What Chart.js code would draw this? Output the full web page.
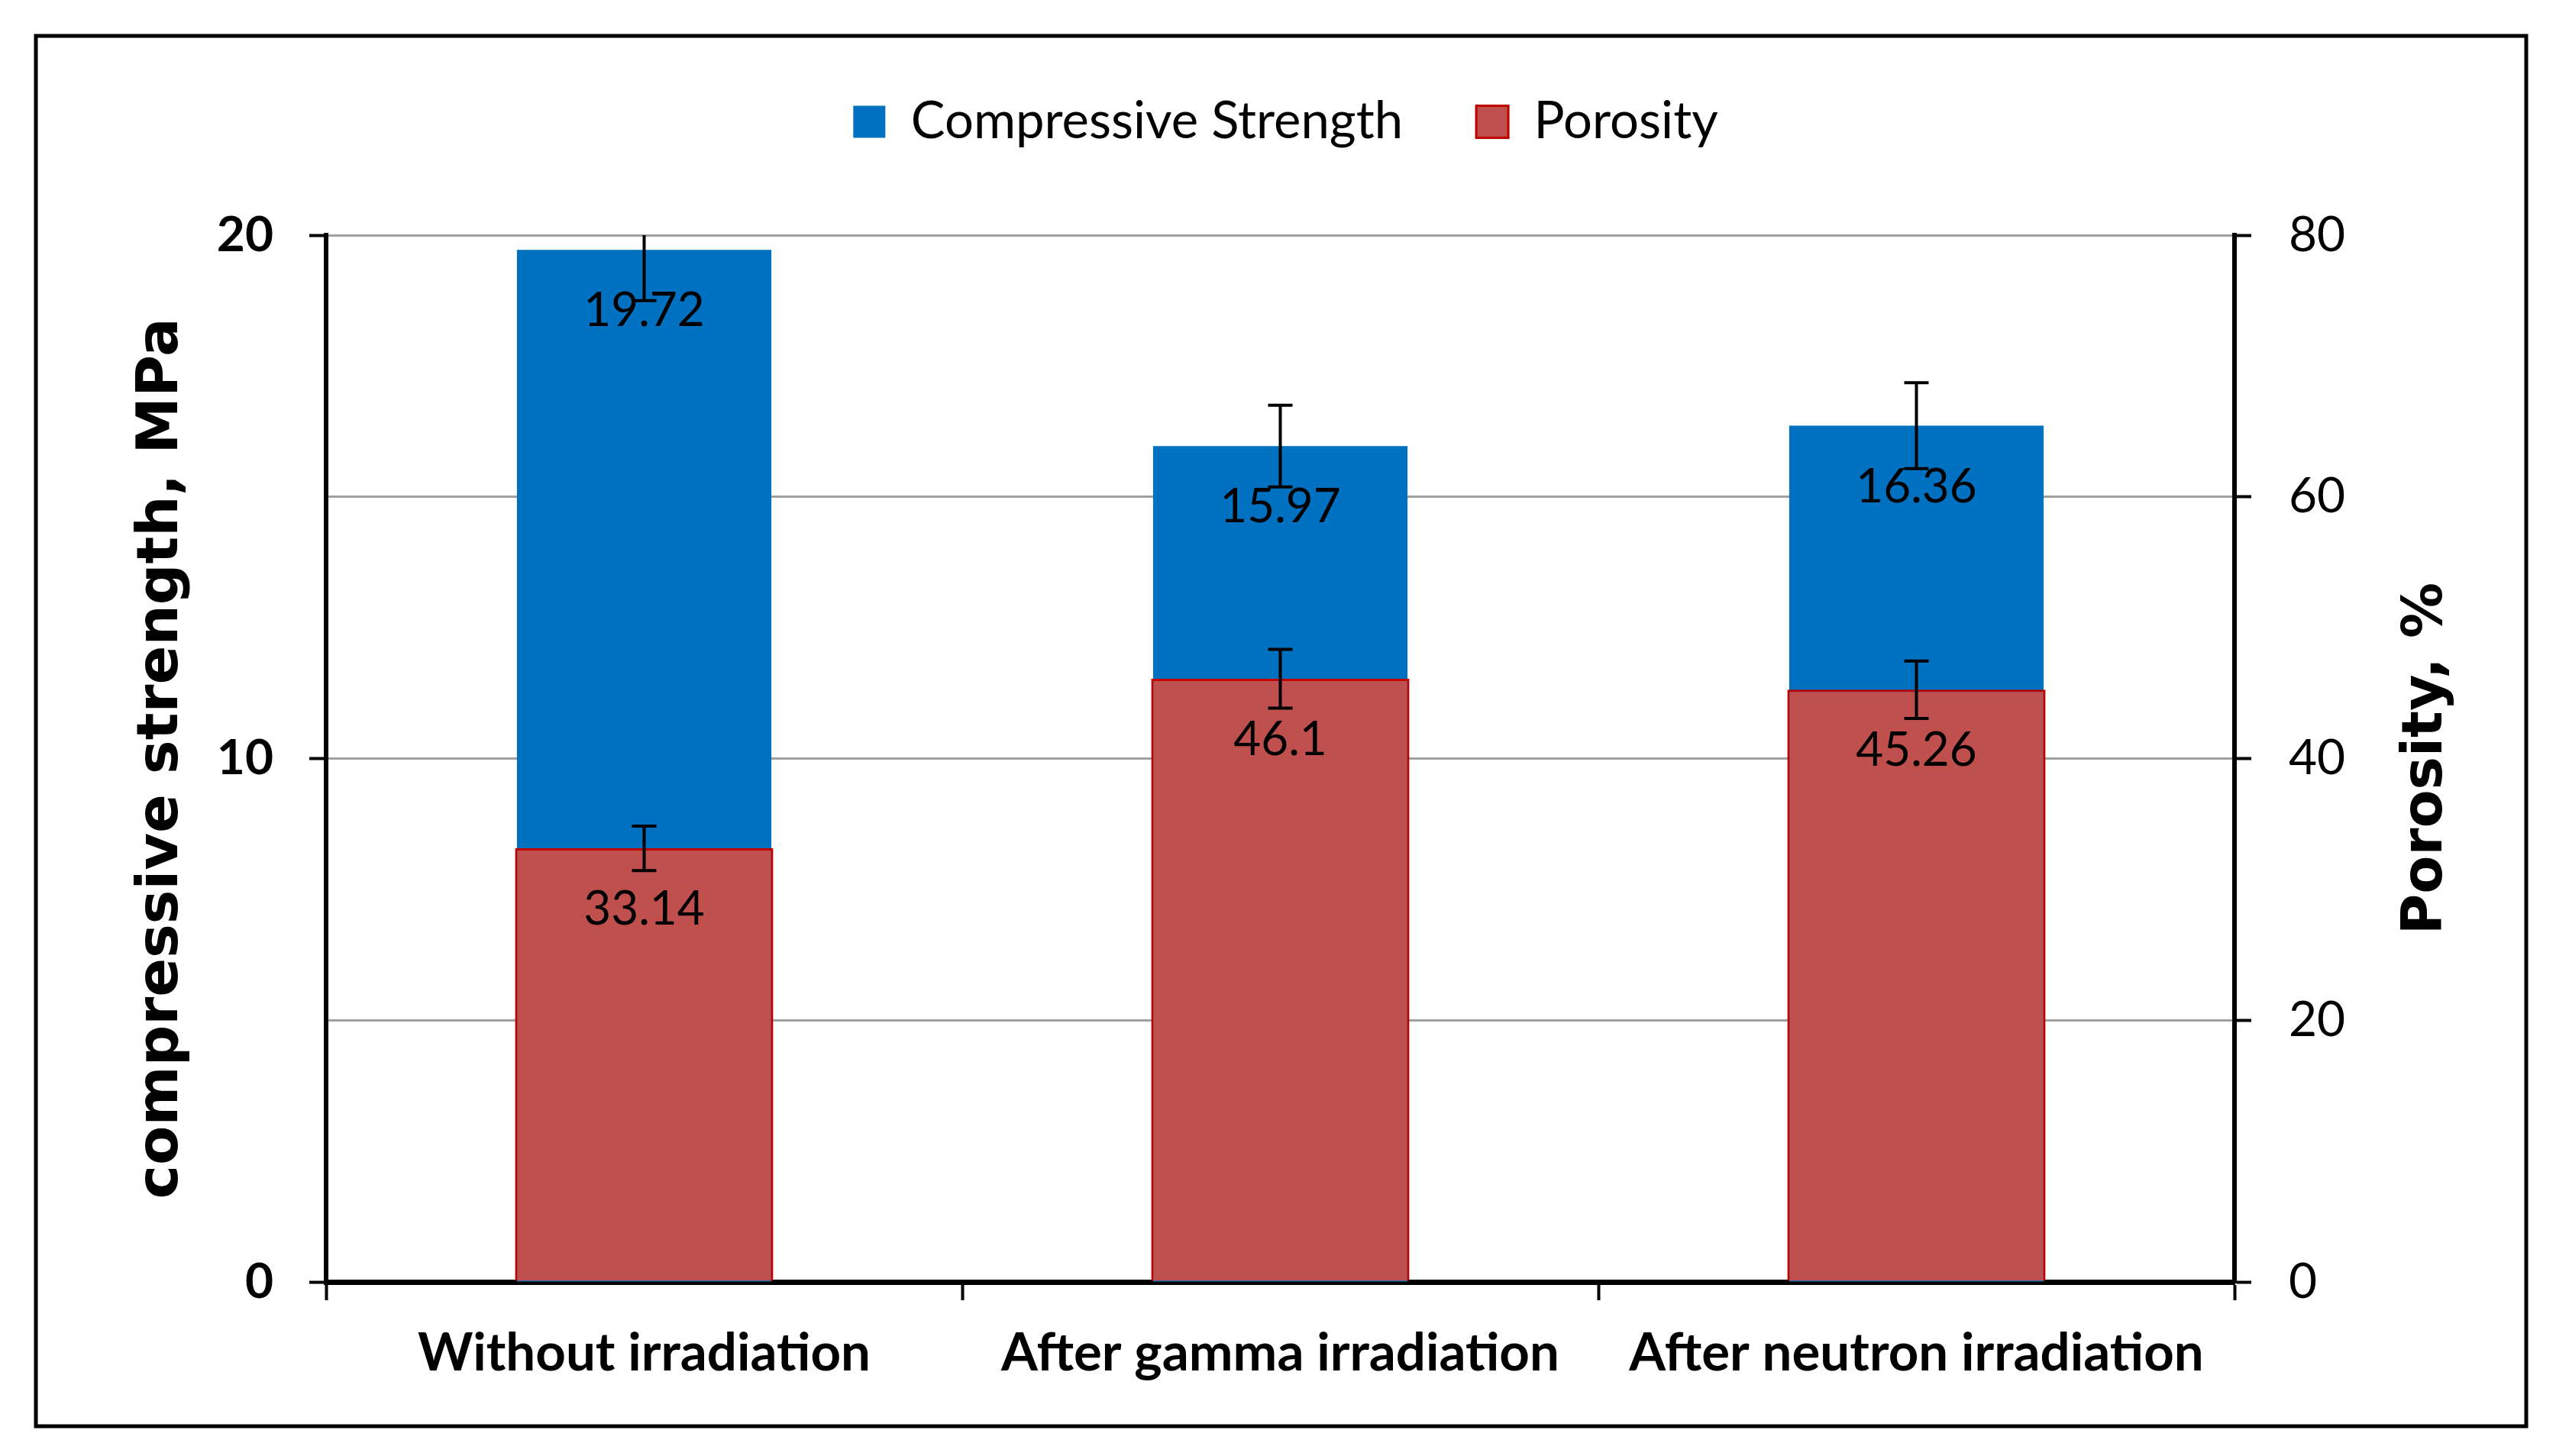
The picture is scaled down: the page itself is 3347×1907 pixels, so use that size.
<!DOCTYPE html>
<html>
<head>
<meta charset="utf-8">
<script src="https://cdn.jsdelivr.net/npm/chart.js@4.4.1/dist/chart.umd.min.js"></script>
<style>
    html, body { margin: 0; padding: 0; background: #ffffff; }
    canvas { display: block; }
</style>
</head>
<body>
<canvas id="strengthChart" width="3347" height="1907"></canvas>
<script>
// Data
const categories = ['Without irradiation', 'After gamma irradiation', 'After neutron irradiation'];
const strength = [19.72, 15.97, 16.36];
const strengthErr = [0.97, 0.78, 0.82];
const porosity = [33.14, 46.1, 45.26];
const porosityErr = [1.7, 2.25, 2.2];
const strengthTicks = [0, 10, 20];
const porosityTicks = [0, 20, 40, 60, 80];

Chart.defaults.font.family = 'Lato';
Chart.defaults.color = '#000000';

// Page frame around the whole figure
const framePlugin = {
    id: 'frame',
    afterDraw(chart) {
        const ctx = chart.ctx;
        ctx.save();
        ctx.strokeStyle = '#000000';
        ctx.lineWidth = 5;
        ctx.strokeRect(47, 47, 3261, 1821);
        ctx.restore();
    }
};

// Error bars + value labels inside the bars
const barExtrasPlugin = {
    id: 'barExtras',
    afterDatasetsDraw(chart) {
        const ctx = chart.ctx;
        const area = chart.chartArea;
        const errs = [strengthErr, porosityErr];

        ctx.save();
        ctx.fillStyle = '#000000';
        ctx.font = '62px Lato';
        ctx.textAlign = 'center';
        ctx.textBaseline = 'middle';
        chart.data.datasets.forEach((ds, di) => {
            const meta = chart.getDatasetMeta(di);
            meta.data.forEach((bar, i) => {
                ctx.fillText(String(ds.data[i]), bar.x, bar.y + 80);
            });
        });
        ctx.restore();

        ctx.save();
        ctx.beginPath();
        ctx.rect(area.left, area.top, area.right - area.left, area.bottom - area.top);
        ctx.clip();
        ctx.strokeStyle = '#000000';
        ctx.lineWidth = 4;
        chart.data.datasets.forEach((ds, di) => {
            const meta = chart.getDatasetMeta(di);
            const scale = chart.scales[ds.yAxisID];
            meta.data.forEach((bar, i) => {
                const hi = scale.getPixelForValue(ds.data[i] + errs[di][i]);
                const lo = scale.getPixelForValue(ds.data[i] - errs[di][i]);
                ctx.beginPath();
                ctx.moveTo(bar.x, hi);
                ctx.lineTo(bar.x, lo);
                ctx.moveTo(bar.x - 16, hi);
                ctx.lineTo(bar.x + 16, hi);
                ctx.moveTo(bar.x - 16, lo);
                ctx.lineTo(bar.x + 16, lo);
                ctx.stroke();
            });
        });
        ctx.restore();
    }
};

// Right axis title reads bottom-to-top like the left one
const rightTitlePlugin = {
    id: 'rightTitle',
    afterDraw(chart) {
        const ctx = chart.ctx;
        const area = chart.chartArea;
        ctx.save();
        ctx.translate(3178, (area.top + area.bottom) / 2);
        ctx.rotate(-Math.PI / 2);
        ctx.font = 'bold 73px "DejaVu Sans"';
        ctx.fillStyle = '#000000';
        ctx.textAlign = 'center';
        ctx.textBaseline = 'middle';
        ctx.fillText('Porosity, %', 0, 0);
        ctx.restore();
    }
};

const ctx = document.getElementById('strengthChart');

new Chart(ctx, {
    type: 'bar',
    data: {
        labels: categories,
        datasets: [{
            label: 'Compressive Strength',
            data: strength,
            yAxisID: 'y',
            backgroundColor: '#0070c0',
            borderWidth: 0,
            barPercentage: 0.4,
            categoryPercentage: 1.0,
            grouped: false,
            order: 2
        }, {
            label: 'Porosity',
            data: porosity,
            yAxisID: 'y1',
            backgroundColor: '#c0504d',
            borderColor: '#c00000',
            borderWidth: 3,
            barPercentage: 0.406,
            categoryPercentage: 1.0,
            grouped: false,
            order: 1
        }]
    },
    options: {
        responsive: false,
        devicePixelRatio: 1,
        animation: false,
        layout: {
            padding: { top: 30, right: 40, bottom: 40, left: 60 }
        },
        plugins: {
            legend: {
                position: 'top',
                labels: {
                    font: { size: 67 },
                    boxWidth: 42,
                    boxHeight: 42,
                    padding: 96,
                    sort: (a, b) => a.datasetIndex - b.datasetIndex
                }
            },
            // empty spacer between the legend and the plot
            subtitle: {
                display: true,
                text: '',
                weight: 500,
                font: { size: 10 },
                padding: { top: 93, bottom: 0 }
            },
            tooltip: { enabled: false }
        },
        scales: {
            x: {
                grid: {
                    drawOnChartArea: false,
                    tickLength: 24,
                    tickColor: '#000000',
                    tickWidth: 4
                },
                border: { color: '#000000', width: 7 },
                ticks: {
                    font: { size: 69, weight: 'bold' },
                    padding: 28,
                    maxRotation: 0
                },
                afterFit: s => { s.height = 188; }
            },
            y: {
                position: 'left',
                min: 0,
                max: 20,
                afterBuildTicks: s => { s.ticks = strengthTicks.map(v => ({ value: v })); },
                grid: {
                    drawOnChartArea: false,
                    tickLength: 22,
                    tickColor: '#000000',
                    tickWidth: 4
                },
                border: { color: '#000000', width: 6 },
                ticks: {
                    font: { size: 64, weight: 'bold' },
                    padding: 47
                },
                title: {
                    display: true,
                    text: 'compressive strength, MPa',
                    font: { family: 'DejaVu Sans', size: 75, weight: 'bold' },
                    padding: { top: 108, bottom: 0 }
                },
                afterFit: s => { s.width = 367; }
            },
            y1: {
                position: 'right',
                min: 0,
                max: 80,
                afterBuildTicks: s => { s.ticks = porosityTicks.map(v => ({ value: v })); },
                grid: {
                    color: '#a0a0a0',
                    lineWidth: 3,
                    tickLength: 22,
                    tickColor: '#000000',
                    tickWidth: 4
                },
                border: { color: '#000000', width: 6 },
                ticks: {
                    font: { size: 64 },
                    padding: 49
                },
                afterFit: s => { s.width = 381; }
            }
        }
    },
    plugins: [framePlugin, barExtrasPlugin, rightTitlePlugin]
});
</script>
</body>
</html>
